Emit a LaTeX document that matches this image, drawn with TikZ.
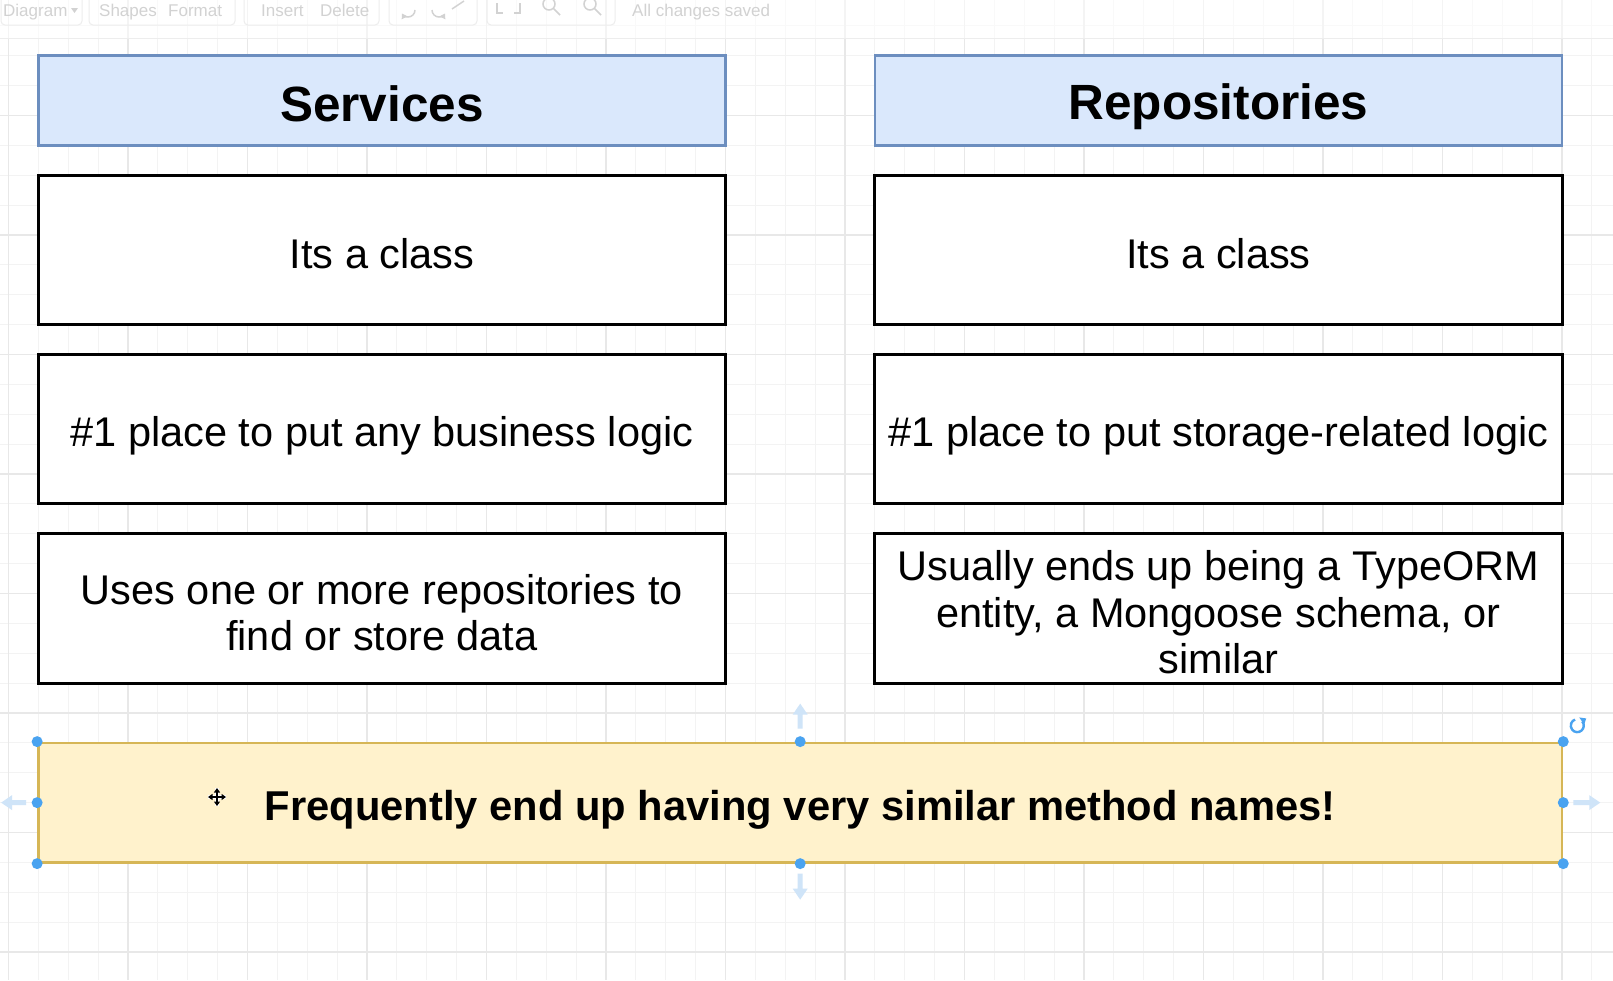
\documentclass[tikz,border=0pt]{standalone}
\usepackage{fontspec}
\setmainfont{Liberation Sans}
\usetikzlibrary{arrows.meta}
\definecolor{hdrfill}{HTML}{DAE8FC}
\definecolor{hdrline}{HTML}{6C8EBF}
\definecolor{notefill}{HTML}{FFF2CC}
\definecolor{noteline}{HTML}{D6B656}
\definecolor{minorgridc}{HTML}{F3F3F3}
\definecolor{majorgridc}{HTML}{E8E8E8}
\definecolor{handlec}{HTML}{4AA3F0}
\definecolor{hintc}{HTML}{CFE4F8}
\definecolor{uigray}{HTML}{D2D2D2}
\definecolor{uiline}{HTML}{EDEDED}
\newcommand\hstrut{\rule[-6.5pt]{0pt}{55pt}}
\newcommand\bstrut{\rule[-4.65pt]{0pt}{47.3pt}}
\newcommand\nstrut{\rule[-3.3pt]{0pt}{47pt}}
\newcommand\noskipfix{\lineskiplimit=-100pt\relax\lineskip=0pt\relax}
\begin{document}
\begin{tikzpicture}[x=1pt,y=-1pt,
  minorgrid/.style={draw=minorgridc,line width=1pt},
  majorgrid/.style={draw=majorgridc,line width=1.2pt},
  hdr/.style={draw=hdrline,fill=hdrfill,line width=2.5pt,inner sep=0pt,
    minimum width=687.125pt,minimum height=89.625pt,
    font=\fontsize{49.5pt}{55pt}\selectfont\bfseries},
  cell/.style={draw=black,fill=white,line width=3pt,inner sep=0pt,align=center,
    minimum width=687.125pt,minimum height=149.375pt,
    font=\fontsize{41.5pt}{46.5pt}\selectfont\noskipfix},
  note/.style={draw=noteline,fill=notefill,line width=2.5pt,inner sep=0pt,
    minimum width=1523.625pt,minimum height=119.5pt,
    font=\fontsize{41.7pt}{47pt}\selectfont\bfseries},
  handle/.style={fill=handlec},
  hint/.style={fill=hintc},
  uitext/.style={text=uigray,inner sep=0pt,anchor=base west,font=\fontsize{17pt}{20pt}\selectfont},
  uibtn/.style={draw=uiline,line width=1pt,rounded corners=4pt}
]
\useasboundingbox (0,0) rectangle (1613,980);
\fill[white] (0,0) rectangle (1613,980);
% grid
\foreach \k in {0,...,54} {\draw[minorgrid] ({8.5+29.875*\k},0) -- ({8.5+29.875*\k},980);}
\foreach \k in {0,...,33} {\draw[minorgrid] (0,{-4+29.875*\k}) -- (1613,{-4+29.875*\k});}
\foreach \k in {0,...,13} {\draw[majorgrid] ({8.5+119.5*\k},0) -- ({8.5+119.5*\k},980);}
\foreach \k in {0,...,8} {\draw[majorgrid] (0,{-4+119.5*\k}) -- (1613,{-4+119.5*\k});}
% faint toolbar
\fill[white,opacity=0.55] (0,0) rectangle (1613,38);
\draw[uiline,line width=1pt] (0,38) -- (1613,38);
\draw[uibtn] (1,-10) rectangle (82,25);
\draw[uibtn] (89,-10) rectangle (235,25);
\draw[uibtn] (244,-10) rectangle (379,25);
\draw[uibtn] (389,-10) rectangle (477,25);
\draw[uibtn] (487,-10) rectangle (615,25);
\node[uitext] (tb1) at (3,16) {Diagram};
\fill[uigray] (71,8) -- (78,8) -- (74.5,13) -- cycle;
\node[uitext] (tb2) at (99,16) {Shapes};
\node[uitext] (tb3) at (168,16) {Format};
\node[uitext] (tb4) at (261,16) {Insert};
\node[uitext] (tb5) at (320,16) {Delete};
\node[uitext] (tb6) at (632,16) {All changes saved};
\draw[uigray,line width=1.5pt,-{Triangle[length=5pt,width=6pt]}] (415,10) arc (0:150:7);
\draw[uigray,line width=1.5pt,-{Triangle[length=5pt,width=6pt]}] (432,10) arc (180:30:7);
\draw[uigray,line width=1.5pt] (452,9) -- (464,1);
\draw[uigray,line width=1.5pt] (497,3) -- (497,13) -- (503,13) (514,13) -- (520,13) -- (520,3);
\draw[uigray,line width=1.5pt] (549,4) circle (6) (553.5,8.5) -- (560,15);
\draw[uigray,line width=1.5pt] (590,4) circle (6) (594.5,8.5) -- (601,15);
% headers
\node[hdr] (sh) at (381.94,100.56) {\hstrut Services};
\node[hdr] (rh) at (1218.44,100.56) {\hstrut Repositories};
% services column
\node[cell] (s1) at (381.94,249.94) {\bstrut Its a class};
\node[cell] (s2) at (381.94,429.19) {\bstrut\#1 place to put any business logic};
\node[cell] (s3) at (381.94,608.44) {\bstrut Uses one or more repositories to\\\bstrut find or store data};
% repositories column
\node[cell] (r1) at (1218.44,249.94) {\bstrut Its a class};
\node[cell] (r2) at (1218.44,429.19) {\bstrut\#1 place to put storage-related logic};
\node[cell] (r3) at (1218.44,608.44) {\bstrut Usually ends up being a TypeORM\\\bstrut entity, a Mongoose schema, or\\\bstrut similar};
% note
\node[note] (nt) at (800.19,802.625) {\nstrut Frequently end up having very similar method names!};
% selection hints
\begin{scope}[shift={(nt.north)}]
\fill[hint] (0,-38) -- (7.5,-27) -- (2.5,-27) -- (2.5,-13) -- (-2.5,-13) -- (-2.5,-27) -- (-7.5,-27) -- cycle;
\end{scope}
\begin{scope}[shift={(nt.south)}]
\fill[hint] (0,36) -- (7.5,25) -- (2.5,25) -- (2.5,10) -- (-2.5,10) -- (-2.5,25) -- (-7.5,25) -- cycle;
\end{scope}
\begin{scope}[shift={(nt.west)}]
\fill[hint] (-36,0) -- (-25,-7.5) -- (-25,-2.5) -- (-11,-2.5) -- (-11,2.5) -- (-25,2.5) -- (-25,7.5) -- cycle;
\end{scope}
\begin{scope}[shift={(nt.east)}]
\fill[hint] (37,0) -- (26,-7.5) -- (26,-2.5) -- (10,-2.5) -- (10,2.5) -- (26,2.5) -- (26,7.5) -- cycle;
\end{scope}
% handles
\foreach \a in {north west,north,north east,west,east,south west,south,south east}
  {\fill[handle] (nt.\a) circle (5.5);}
% rotate icon
\draw[handlec,line width=2.4pt] ([shift={(14,-16)}]nt.north east) ++(-40:6.5) arc[start angle=-40,end angle=250,radius=6.5];
\fill[handlec] ([shift={(14,-16)}]nt.north east) ++(-40:6.5) ++(-3,-4) -- ++(7,1) -- ++(-2,6) -- cycle;
% move cursor
\begin{scope}[shift={(217,797)}]
\draw[white,line width=4.5pt] (-9,0) -- (9,0) (0,-9) -- (0,9);
\draw[black,line width=1.6pt,{Triangle[length=4.5pt,width=6pt]}-{Triangle[length=4.5pt,width=6pt]}] (-9,0) -- (9,0);
\draw[black,line width=1.6pt,{Triangle[length=4.5pt,width=6pt]}-{Triangle[length=4.5pt,width=6pt]}] (0,-9) -- (0,9);
\end{scope}
\end{tikzpicture}
\end{document}
